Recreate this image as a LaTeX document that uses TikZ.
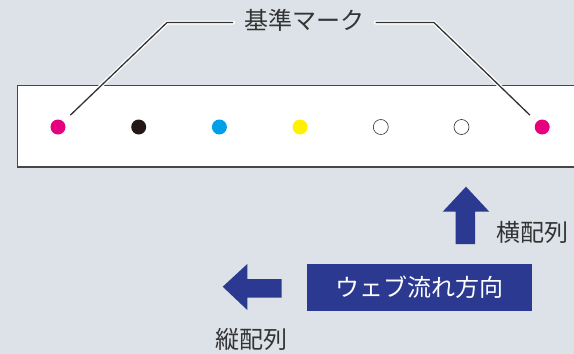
\documentclass[tikz,border=0pt]{standalone}
\usepackage{fontspec}
\setmainfont{Noto Sans CJK JP}
\usetikzlibrary{calc}
\definecolor{bgcol}{HTML}{DCE2E8}
\definecolor{webblue}{HTML}{2B3990}
\definecolor{markmag}{HTML}{E4007F}
\definecolor{markcyan}{HTML}{00A0E9}
\definecolor{markyel}{HTML}{FFF100}
\definecolor{markblk}{HTML}{231815}
\definecolor{inkgray}{HTML}{333333}
\tikzset{
	leader/.style={draw=inkgray, line width=1.3pt, preaction={draw=white, line width=4pt, line cap=round}},
	dot/.style={circle, inner sep=0pt, minimum size=15pt, line width=0.6pt},
	lbl/.style={text=inkgray, font=\fontsize{24}{24}\selectfont, inner sep=0pt},
}
\begin{document}
\begin{tikzpicture}[x=1pt,y=-1pt]
\fill[bgcol] (0,0) rectangle (574,354);
\useasboundingbox (0,0) rectangle (574,354);

\draw[fill=white, draw=inkgray!90, line width=1.4pt] (590,85.7) -- (17.7,85.7) -- (17.7,167) -- (590,167);

\foreach \c/\e [count=\i] in {markmag/none,markblk/none,markcyan/none,markyel/none,white/inkgray,white/inkgray,markmag/none} {
	\node[dot, fill=\c, draw=\e] (m\i) at (58+80.7*\i-80.7,127) {};
}

\node[lbl] (kijun) at (304.4,20.5) {基準マーク};
\coordinate (lc) at (167,22.5);
\coordinate (rc) at (434,22.5);
\draw[leader] ([xshift=-11pt,yshift=-2pt]kijun.west) -- (lc) -- ($(m1)!17pt!(lc)$);
\draw[leader] ([xshift=11pt,yshift=-2pt]kijun.east) -- (rc) -- ($(m7)!17pt!(rc)$);

\fill[webblue] (466,186.7) -- (489.3,211.7) -- (475,211.7) -- (475,244) -- (455.7,244) -- (455.7,211.7) -- (442.7,211.7) -- cycle;
\node[lbl] (yoko) at (532.5,232.5) {横配列};

\node[fill=webblue, text=white, font=\fontsize{24}{24}\selectfont, minimum width=225pt, minimum height=46.4pt, inner sep=0pt] (flow) at (419.2,287.5) {ウェブ流れ方向};

\fill[webblue] (222.7,286.7) -- (247.3,264) -- (247.3,279) -- (281.7,279) -- (281.7,297.7) -- (247.3,297.7) -- (247.3,310) -- cycle;
\node[lbl] (tate) at (251.5,339) {縦配列};
\end{tikzpicture}
\end{document}
